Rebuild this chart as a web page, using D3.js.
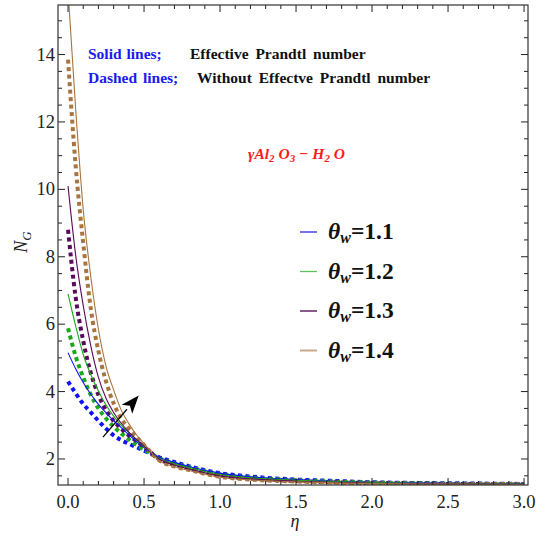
<!DOCTYPE html>
<html><head><meta charset="utf-8">
<script src="https://cdn.jsdelivr.net/npm/d3@7"></script>
<style>body{margin:0;background:#fff}svg{display:block}</style>
</head><body><svg id="c" width="537" height="544"></svg>
<script>
const eta = [0,0.05,0.1,0.15,0.2,0.25,0.3,0.35,0.4,0.45,0.5,0.6,0.7,0.8,1.0,1.2,1.5,1.75,2.0,2.5,3.0];
const thetaLabels = ["1.1","1.2","1.3","1.4"];
const colors = ["#1010ff","#1aa81a","#5a0a5a","#a8743f"];
const legendColors = ["#2a2aee","#5cc45c","#4a004a","#c8a888"];
const solid = [
 [5.15,4.68,4.27,3.92,3.62,3.37,3.14,2.93,2.72,2.52,2.34,2.05,1.9,1.77,1.58,1.47,1.39,1.34,1.31,1.28,1.26],
 [6.9,5.95,5.1,4.5,4.02,3.6,3.27,3.0,2.78,2.57,2.36,2.02,1.86,1.74,1.54,1.44,1.37,1.33,1.3,1.27,1.255],
 [10.1,8.05,6.55,5.35,4.42,3.8,3.38,3.06,2.8,2.58,2.38,2.0,1.82,1.7,1.5,1.41,1.34,1.31,1.28,1.26,1.25],
 [15.9,12.4,9.4,7.4,5.85,4.75,4.05,3.45,3.05,2.72,2.45,1.95,1.77,1.66,1.46,1.38,1.32,1.29,1.27,1.255,1.245]
];
const dashed = [
 [4.3,3.95,3.63,3.38,3.13,2.9,2.7,2.56,2.45,2.35,2.25,2.05,1.91,1.78,1.58,1.48,1.39,1.35,1.31,1.28,1.26],
 [5.88,5.05,4.42,3.9,3.5,3.2,2.96,2.76,2.58,2.42,2.28,2.02,1.87,1.75,1.55,1.45,1.37,1.33,1.3,1.27,1.255],
 [8.8,6.8,5.5,4.55,3.9,3.45,3.13,2.9,2.7,2.53,2.36,2.0,1.83,1.71,1.51,1.42,1.35,1.31,1.285,1.26,1.25],
 [13.85,10.7,8.4,6.45,5.2,4.3,3.65,3.2,2.9,2.65,2.42,1.96,1.78,1.67,1.47,1.39,1.33,1.3,1.275,1.255,1.245]
];
const xTicks = [0,0.5,1.0,1.5,2.0,2.5,3.0];
const yTicks = [2,4,6,8,10,12,14];
const arrowPts = [[0.23,2.65],[0.465,3.88]];

const FONT = "Liberation Serif";
const svg = d3.select("#c");
const L=58,R=528,T=5,B=485;
const x = d3.scaleLinear().domain([-0.066,3.026]).range([L,R]);
const y = d3.scaleLinear().domain([1.228,15.47]).range([B,T]);

function txt(sel){ return sel.append("text").style("font-family",FONT); }

svg.append("defs").append("clipPath").attr("id","clip").append("rect")
  .attr("x",L).attr("y",T).attr("width",R-L).attr("height",B-T);

const g = svg.append("g").attr("clip-path","url(#clip)");
const line = d3.line().x((d,i)=>x(eta[i])).y(d=>y(d)).curve(d3.curveMonotoneX);

dashed.forEach((s,k)=>{
  g.append("path").attr("d",line(s)).attr("fill","none").attr("stroke",colors[k])
   .attr("stroke-width",4).attr("stroke-dasharray","4,3.5");
});
solid.forEach((s,k)=>{
  g.append("path").attr("d",line(s)).attr("fill","none").attr("stroke",colors[k])
   .attr("stroke-width",1.1);
});

const ax = svg.append("g");
const xMinor = d3.range(0,3.0001,0.1);
const yMinor = d3.range(1.5,15.4,0.5);
xMinor.forEach(v=>{
  const major = xTicks.some(t=>Math.abs(t-v)<1e-6);
  const len = major?7:4;
  ax.append("line").attr("x1",x(v)).attr("x2",x(v)).attr("y1",B).attr("y2",B-len).attr("stroke","#222");
  ax.append("line").attr("x1",x(v)).attr("x2",x(v)).attr("y1",T).attr("y2",T+len).attr("stroke","#222");
});
yMinor.forEach(v=>{
  const major = yTicks.some(t=>Math.abs(t-v)<1e-6);
  const len = major?7:4;
  ax.append("line").attr("y1",y(v)).attr("y2",y(v)).attr("x1",L).attr("x2",L+len).attr("stroke","#222");
  ax.append("line").attr("y1",y(v)).attr("y2",y(v)).attr("x1",R).attr("x2",R-len).attr("stroke","#222");
});
ax.append("rect").attr("x",L).attr("y",T).attr("width",R-L).attr("height",B-T)
  .attr("fill","none").attr("stroke","#333").attr("stroke-width",1.2);

xTicks.forEach(v=>{
  txt(ax).attr("x",x(v)).attr("y",508).attr("text-anchor","middle")
   .style("font-size","18.5px").attr("fill","#222").text(v.toFixed(1));
});
yTicks.forEach(v=>{
  txt(ax).attr("x",L-3).attr("y",y(v)+6).attr("text-anchor","end")
   .style("font-size","18.5px").attr("fill","#222").text(v);
});

txt(svg).attr("x",295).attr("y",527).attr("text-anchor","middle")
  .style("font-size","18px").style("font-style","italic").attr("fill","#222").text("η");
const ny = txt(svg).attr("transform","translate(27,242) rotate(-90)")
  .attr("text-anchor","middle").style("font-size","18px").style("font-style","italic").attr("fill","#222");
ny.append("tspan").text("N");
ny.append("tspan").style("font-size","13px").attr("dy",4).text("G");

const a1 = txt(svg).attr("x",88).attr("y",59).style("font-size","15.5px").style("font-weight","bold");
a1.append("tspan").attr("fill","#1a1aee").style("word-spacing","1px").text("Solid lines;");
a1.append("tspan").attr("x",190).attr("fill","#111").style("word-spacing","3px").text("Effective Prandtl number");
const a2 = txt(svg).attr("x",88).attr("y",83).style("font-size","15.5px").style("font-weight","bold");
a2.append("tspan").attr("fill","#1a1aee").style("word-spacing","2px").text("Dashed lines;");
a2.append("tspan").attr("x",197).attr("fill","#111").style("word-spacing","3px").text("Without Effectve Prandtl number");

const red = txt(svg).attr("x",248).attr("y",159).style("font-size","15.5px")
  .style("font-weight","bold").style("font-style","italic").attr("fill","#ff1a1a");
red.append("tspan").text("γAl");
red.append("tspan").style("font-size","11px").attr("dy",3).text("2");
red.append("tspan").attr("dy",-3).text(" O");
red.append("tspan").style("font-size","11px").attr("dy",3).text("3");
red.append("tspan").attr("dy",-3).text(" − H");
red.append("tspan").style("font-size","11px").attr("dy",3).text("2");
red.append("tspan").attr("dy",-3).text(" O");

thetaLabels.forEach((lab,k)=>{
  const yy = 232 + k*39.5;
  svg.append("line").attr("x1",300).attr("x2",317).attr("y1",yy).attr("y2",yy)
    .attr("stroke",legendColors[k]).attr("stroke-width",k==3?2:1.3);
  const t = txt(svg).attr("x",328).attr("y",yy+7).style("font-size","23.5px")
    .style("font-weight","bold").attr("fill","#111");
  t.append("tspan").style("font-style","italic").text("θ");
  t.append("tspan").style("font-style","italic").style("font-size","16px").attr("dy",4).text("w");
  t.append("tspan").attr("dy",-4).text("=" + lab);
});

const p0=[x(arrowPts[0][0]),y(arrowPts[0][1])], p1=[x(arrowPts[1][0]),y(arrowPts[1][1])];
const ang = Math.atan2(p1[1]-p0[1],p1[0]-p0[0]);
const hl=18, hw=7;
const base=[p1[0]-hl*Math.cos(ang), p1[1]-hl*Math.sin(ang)];
svg.append("line").attr("x1",p0[0]).attr("y1",p0[1]).attr("x2",base[0]).attr("y2",base[1])
  .attr("stroke","#000").attr("stroke-width",1.2);
svg.append("path").attr("d",d3.line()([
  p1,
  [base[0]+hw*Math.sin(ang), base[1]-hw*Math.cos(ang)],
  [p1[0]-hl*0.75*Math.cos(ang), p1[1]-hl*0.75*Math.sin(ang)],
  [base[0]-hw*Math.sin(ang), base[1]+hw*Math.cos(ang)]
])+"Z").attr("fill","#000");
</script></body></html>
